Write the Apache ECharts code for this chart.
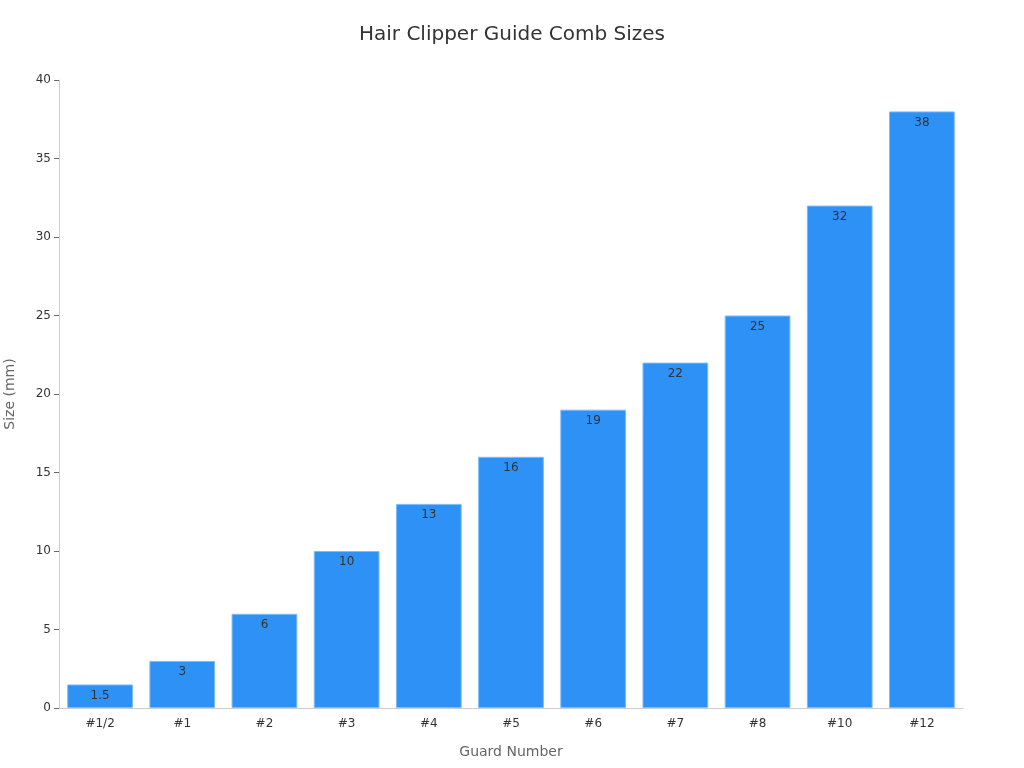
<!DOCTYPE html>
<html>
<head>
<meta charset="utf-8">
<script src="https://cdn.jsdelivr.net/npm/echarts@6/dist/echarts.min.js"></script>
<style>
  html, body { margin: 0; padding: 0; background: #fff; }
  #chart { width: 1024px; height: 768px; }
</style>
</head>
<body>
<div id="chart"></div>
<script>
// guard numbers and their comb sizes
var guards = ['#1/2', '#1', '#2', '#3', '#4', '#5', '#6', '#7', '#8', '#10', '#12'];
var sizesMm = [1.5, 3, 6, 10, 13, 16, 19, 22, 25, 32, 38];

var myChart = echarts.init(document.getElementById('chart'));

var option = {
    backgroundColor: '#fff',
    textStyle: {
        fontFamily: 'DejaVu Sans'
    },
    title: {
        text: 'Hair Clipper Guide Comb Sizes',
        left: 'center',
        top: 20,
        textStyle: {
            color: '#333',
            fontSize: 20,
            fontWeight: 'normal'
        }
    },
    grid: {
        left: 59,
        right: 61,
        top: 80,
        bottom: 60,
        outerBoundsMode: 'none',
        containLabel: false
    },
    xAxis: {
        type: 'category',
        data: guards,
        name: 'Guard Number',
        nameLocation: 'middle',
        nameGap: 37,
        nameTextStyle: { color: '#666', fontSize: 14 },
        axisLine: { lineStyle: { color: '#ccc' } },
        axisTick: { alignWithLabel: true, lineStyle: { color: '#666' } },
        axisLabel: { color: '#333', fontSize: 12, margin: 10 }
    },
    yAxis: {
        type: 'value',
        min: 0,
        max: 40,
        interval: 5,
        name: 'Size (mm)',
        nameLocation: 'middle',
        nameGap: 42,
        nameTextStyle: { color: '#666', fontSize: 14 },
        axisLine: { show: true, lineStyle: { color: '#ccc' } },
        axisTick: { show: true, lineStyle: { color: '#666' } },
        axisLabel: { color: '#333', fontSize: 12 },
        splitLine: { show: false }
    },
    series: [{
        name: 'Size',
        type: 'bar',
        data: sizesMm,
        barCategoryGap: '20%',
        itemStyle: {
            color: '#2E91F5',
            borderColor: '#7DBCF9',
            borderWidth: 1
        },
        label: {
            show: true,
            position: 'insideTop',
            color: '#333',
            fontSize: 12
        }
    }]
};

myChart.setOption(option);
</script>
</body>
</html>
